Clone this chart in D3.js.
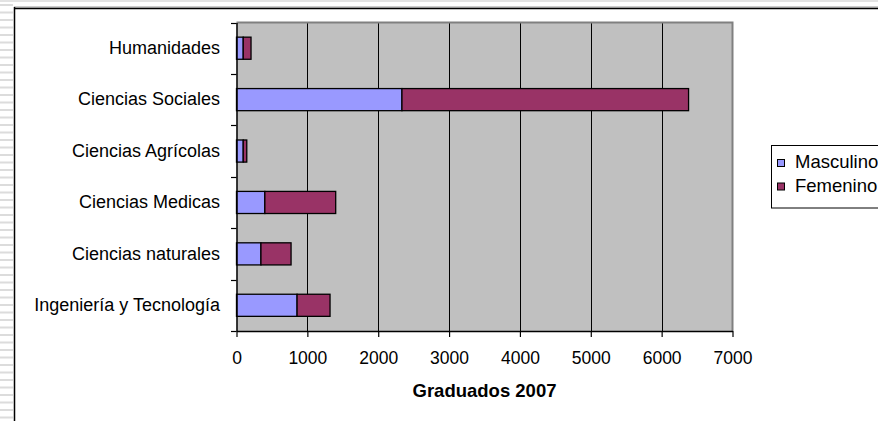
<!DOCTYPE html>
<html>
<head>
<meta charset="utf-8">
<script src="https://cdn.jsdelivr.net/npm/d3@7"></script>
<style>
  html, body { margin: 0; padding: 0; background: #ffffff; }
  svg { display: block; }
  text { font-family: "Liberation Sans", Arial, sans-serif; fill: #000; }
</style>
</head>
<body>
<svg id="chart" width="878" height="421"></svg>
<script>
const categories = ["Humanidades", "Ciencias Sociales", "Ciencias Agrícolas", "Ciencias Medicas", "Ciencias naturales", "Ingeniería y Tecnología"];
const masculino = [95, 2335, 95, 400, 345, 855];
const femenino = [110, 4045, 50, 1000, 425, 465];
const seriesNames = ["Masculino", "Femenino"];
const seriesColors = ["#9999ff", "#993366"];
const xTicks = [0, 1000, 2000, 3000, 4000, 5000, 6000, 7000];
const axisTitle = "Graduados 2007";

const svg = d3.select("#chart");
const W = 878, H = 421;

// slide decoration: striped left margin and frame
const deco = svg.append("g");
deco.append("rect").attr("x", 0).attr("y", 0).attr("width", W).attr("height", 2).attr("fill", "#e3e3e3");
for (let yy = 4; yy < H; yy += 7.5) {
  deco.append("rect").attr("x", 0).attr("y", yy).attr("width", 13).attr("height", 2).attr("fill", "#dcdcdc");
}
deco.append("line").attr("x1", 14).attr("x2", W).attr("y1", 7).attr("y2", 7).attr("stroke", "#9a9a9a").attr("stroke-width", 1);
deco.append("line").attr("x1", 14).attr("x2", W).attr("y1", 8.5).attr("y2", 8.5).attr("stroke", "#000").attr("stroke-width", 1.5);
deco.append("line").attr("x1", 14.5).attr("x2", 14.5).attr("y1", 7).attr("y2", H).attr("stroke", "#000").attr("stroke-width", 1.5);

const plot = { left: 236.5, right: 732.5, top: 22.5, bottom: 331 };

const x = d3.scaleLinear().domain([0, 7000]).range([plot.left, plot.right]);
const y = d3.scaleBand().domain(categories).range([plot.top, plot.bottom]).paddingInner(0.57).paddingOuter(0.285);

// plot area
svg.append("rect")
  .attr("x", plot.left).attr("y", plot.top)
  .attr("width", plot.right - plot.left).attr("height", plot.bottom - plot.top)
  .attr("fill", "#c0c0c0");

// gridlines
svg.append("g").selectAll("line")
  .data(xTicks.filter(t => t > 0 && t < 7000))
  .join("line")
  .attr("x1", d => Math.round(x(d)) + 0.5).attr("x2", d => Math.round(x(d)) + 0.5)
  .attr("y1", plot.top).attr("y2", plot.bottom)
  .attr("stroke", "#000").attr("stroke-width", 1);

// plot border (gray) top & right
svg.append("path")
  .attr("d", `M${plot.left},${plot.top} H${plot.right} V${plot.bottom}`)
  .attr("fill", "none").attr("stroke", "#808080").attr("stroke-width", 2);

// stacked data
const data = categories.map((c, i) => ({ cat: c, Masculino: masculino[i], Femenino: femenino[i] }));
const stack = d3.stack().keys(seriesNames)(data);

const bars = svg.append("g");
stack.forEach((layer, li) => {
  bars.append("g").selectAll("rect")
    .data(layer)
    .join("rect")
    .attr("x", d => x(d[0]))
    .attr("y", d => y(d.data.cat))
    .attr("width", d => x(d[1]) - x(d[0]))
    .attr("height", y.bandwidth())
    .attr("fill", seriesColors[li])
    .attr("stroke", "#000")
    .attr("stroke-width", 1.3);
});

// x axis
const xAxis = svg.append("g")
  .attr("transform", `translate(0,${plot.bottom})`)
  .call(d3.axisBottom(x).tickValues(xTicks).tickFormat(d3.format("d")).tickSizeInner(6).tickSizeOuter(0).tickPadding(14.5));
xAxis.select(".domain").attr("stroke", "#000").attr("stroke-width", 1.5);
xAxis.selectAll(".tick line").attr("stroke", "#000").attr("stroke-width", 1.2);
xAxis.selectAll(".tick text").attr("font-size", "17.5px").attr("font-family", "'Liberation Sans', Arial, sans-serif");

// y axis labels
const yAxis = svg.append("g")
  .attr("transform", `translate(${plot.left},0)`)
  .call(d3.axisLeft(y).tickSize(0).tickPadding(16.5));
yAxis.select(".domain").attr("stroke", "#000").attr("stroke-width", 1.5);
yAxis.selectAll(".tick text").attr("font-size", "18px").attr("font-family", "'Liberation Sans', Arial, sans-serif");

// y boundary ticks
const step = y.step();
const bounds = d3.range(categories.length + 1).map(i => y(categories[0]) - step * y.paddingInner() / 2 + i * step);
svg.append("g").selectAll("line")
  .data(bounds)
  .join("line")
  .attr("x1", plot.left - 5.5).attr("x2", plot.left)
  .attr("y1", d => Math.round(d) + 0.5).attr("y2", d => Math.round(d) + 0.5)
  .attr("stroke", "#000").attr("stroke-width", 1.2);

// axis title
svg.append("text")
  .attr("x", (plot.left + plot.right) / 2)
  .attr("y", 397)
  .attr("text-anchor", "middle")
  .attr("font-size", "18.5px")
  .attr("font-weight", "bold")
  .text(axisTitle);

// legend
const lg = svg.append("g").attr("transform", "translate(771.5,145.5)");
lg.append("rect").attr("x", 0).attr("y", 0).attr("width", 200).attr("height", 62.5)
  .attr("fill", "#fff").attr("stroke", "#000").attr("stroke-width", 1);
seriesNames.forEach((s, i) => {
  const gy = 14 + i * 23.5;
  lg.append("rect").attr("x", 6).attr("y", gy).attr("width", 7).attr("height", 7)
    .attr("fill", seriesColors[i]).attr("stroke", "#000").attr("stroke-width", 1);
  lg.append("text").attr("x", 23.5).attr("y", gy + 8.5)
    .attr("font-size", "18.5px").text(s);
});
</script>
</body>
</html>
